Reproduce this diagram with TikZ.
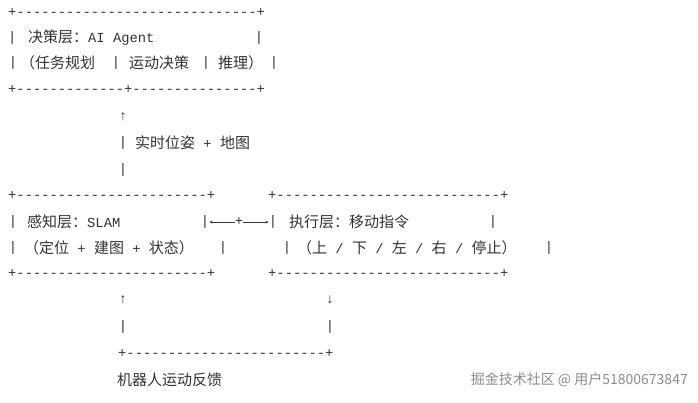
\documentclass[tikz,border=0pt]{standalone}
\usepackage{fontspec}
\newfontfamily\mono{Liberation Mono}
\newfontfamily\cjk{Noto Sans CJK SC}
\newcommand\C[1]{{\fontsize{15}{16}\cjk #1}}
\begin{document}
\begin{tikzpicture}[x=1pt,y=-1pt,
  t/.style={anchor=west,inner sep=0pt,text=black!80,font=\fontsize{13.8}{14}\mono},
  b/.style={anchor=center,inner sep=0pt,text=black!80,font=\fontsize{13.8}{14}\mono}]
\useasboundingbox[fill=white] (0,0) rectangle (698,402);
\node[t] (r1) at (8,13) {+-----------------------------+};
\node[t] (l2a) at (8,38) {|};
\node[t] (l2b) at (28,38) {\C{决策层：}AI Agent};
\node[b] (l2d) at (259,38) {|};
\node[b] (l3a) at (13,63) {|};
\node[t] (l3b) at (20,63) {\C{（任务规划}};
\node[b] (l3c) at (116,63) {|};
\node[t] (l3d) at (129,63) {\C{运动决策}};
\node[b] (l3e) at (206,63) {|};
\node[t] (l3f) at (218,63) {\C{推理）}};
\node[b] (l3g) at (274,63) {|};
\node[t] (r4) at (8,90) {+-------------+---------------+};
\node[b] (u1) at (123,117) {↑};
\node[b] (v1) at (123,143) {|};
\node[t] (lbl) at (135,143) {\C{实时位姿} + \C{地图}};
\node[b] (v2) at (123,170) {|};
\node[t] (r7a) at (8,196) {+-----------------------+};
\node[t] (r7b) at (268,196) {+---------------------------+};
\node[b] (p1) at (13,222) {|};
\node[t] (p2) at (27,222) {\C{感知层：}SLAM};
\node[b] (pb) at (205,222) {|};
\node[b] (pm) at (239,222) {+};
\node[b] (eb) at (273,222) {|};
\node[t] (e2) at (289,222) {\C{执行层：移动指令}};
\node[b] (e3) at (493,222) {|};
\draw[->,black!80,>=stealth,thin] (pm) -- (eb);
\draw[->,black!80,>=stealth,thin] (pm) -- (pb);
\node[b] (q1) at (13,248) {|};
\node[t] (q2) at (24,248) {\C{（定位} + \C{建图} + \C{状态）}};
\node[b] (q3) at (223,248) {|};
\node[b] (q4) at (287,248) {|};
\node[t] (q5) at (297,248) {\C{（上} / \C{下} / \C{左} / \C{右} / \C{停止）}};
\node[b] (q6) at (549,248) {|};
\node[t] (r10a) at (8,274) {+-----------------------+};
\node[t] (r10b) at (268,274) {+---------------------------+};
\node[b] (u2) at (123,300) {↑};
\node[b] (d2) at (330,300) {↓};
\node[b] (v3) at (123,327) {|};
\node[b] (v4) at (330,327) {|};
\node[t] (r13) at (118,354) {+------------------------+};
\node[t] (fb) at (117,380) {\C{机器人运动反馈}};
\node[anchor=east,inner sep=0pt,text=black!45,font=\fontsize{14}{15}\cjk] (w) at (688,380) {掘金技术社区 @ 用户51800673847};
\end{tikzpicture}
\end{document}
